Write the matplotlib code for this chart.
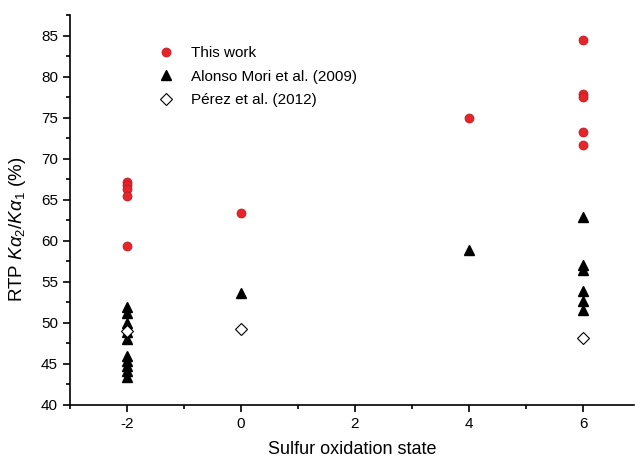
import matplotlib
matplotlib.use('Agg')
import matplotlib.pyplot as plt
from matplotlib.ticker import MultipleLocator

plt.rcParams['font.family'] = ['Liberation Sans', 'DejaVu Sans']
plt.rcParams['mathtext.fontset'] = 'custom'
plt.rcParams['mathtext.rm'] = 'Liberation Sans'
plt.rcParams['mathtext.it'] = 'Liberation Sans:italic'
plt.rcParams['axes.unicode_minus'] = False

# This work
x_work = [-2, -2, -2, -2, -2, 0, 4, 6, 6, 6, 6, 6]
y_work = [67.2, 66.8, 66.3, 65.5, 59.4, 63.4, 75.0, 84.4, 77.9, 77.5, 73.2, 71.7]

# Alonso Mori et al. (2009)
x_mori = [-2, -2, -2, -2, -2, -2, -2, -2, -2, -2, 0, 4, 6, 6, 6, 6, 6, 6]
y_mori = [51.9, 51.2, 50.0, 48.9, 48.0, 46.0, 45.4, 44.8, 44.1, 43.4,
          53.6, 58.9, 62.9, 57.0, 56.4, 53.9, 52.7, 51.6]

# Perez et al. (2012)
x_perez = [-2, 0, 6]
y_perez = [49.0, 49.3, 48.1]

fig = plt.figure(figsize=(6.35, 4.61), dpi=100)
ax = fig.add_axes([0.110, 0.1215, 0.889, 0.846])

ax.plot(x_mori, y_mori, '^', color='black', markersize=7, label='Alonso Mori et al. (2009)')
ax.plot(x_perez, y_perez, 'D', markerfacecolor='white', markeredgecolor='black',
        markeredgewidth=0.8, markersize=6, label='Pérez et al. (2012)')
ax.plot(x_work, y_work, 'o', color='#e8242a', markeredgecolor='#b01a1e',
        markeredgewidth=0.5, markersize=6.5, label='This work')

ax.set_xlim(-3, 6.9)
ax.set_ylim(40, 87.5)
ax.xaxis.set_major_locator(MultipleLocator(2))
ax.xaxis.set_minor_locator(MultipleLocator(1))
ax.yaxis.set_major_locator(MultipleLocator(5))
ax.yaxis.set_minor_locator(MultipleLocator(2.5))
ax.spines['top'].set_visible(False)
ax.spines['right'].set_visible(False)
ax.spines['left'].set_linewidth(1.2)
ax.spines['bottom'].set_linewidth(1.2)
ax.tick_params(which='major', direction='out', length=5, width=1.2, labelsize=11)
ax.tick_params(which='minor', direction='out', length=3, width=1.2)

ax.set_xlabel('Sulfur oxidation state', fontsize=13, labelpad=7)
ax.set_ylabel(r'RTP $K\alpha_2/K\alpha_1$ (%)', fontsize=13.5)
ax.yaxis.set_label_coords(-0.075, 0.45)

h, l = ax.get_legend_handles_labels()
order = [2, 0, 1]
ax.legend([h[i] for i in order], [l[i] for i in order], loc='upper left',
          bbox_to_anchor=(0.125, 0.955), frameon=False, fontsize=11,
          handletextpad=0.9, labelspacing=0.62, handlelength=1.5)

fig.savefig('out.png', dpi=100)
